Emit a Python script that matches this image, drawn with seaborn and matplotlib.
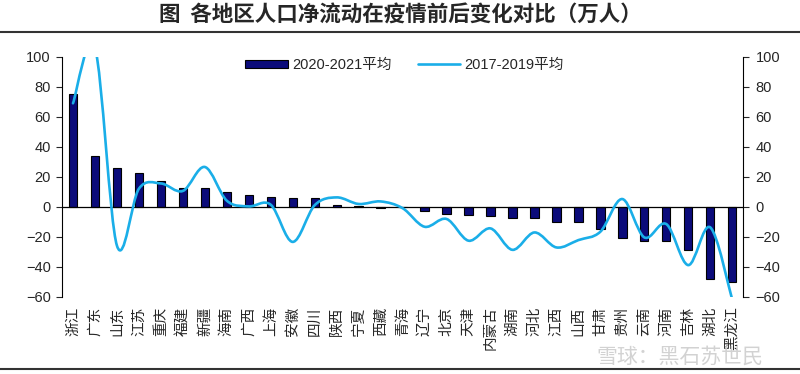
import numpy as np
import pandas as pd
import matplotlib
matplotlib.use("Agg")
import matplotlib.pyplot as plt
import seaborn as sns
from matplotlib.path import Path
from matplotlib.patches import PathPatch, Patch
from matplotlib.lines import Line2D

# Provinces, ordered as in the chart
provinces = ["浙江", "广东", "山东", "江苏", "重庆", "福建", "新疆", "海南", "广西", "上海",
             "安徽", "四川", "陕西", "宁夏", "西藏", "青海", "辽宁", "北京", "天津", "内蒙古",
             "湖南", "河北", "江西", "山西", "甘肃", "贵州", "云南", "河南", "吉林", "湖北", "黑龙江"]

# Net population flow, 2020-2021 average (bars, 万人)
avg_2020_2021 = [75.4, 34.1, 25.9, 22.5, 17.2, 12.7, 12.6, 9.6, 7.8, 6.2,
                 6.0, 5.5, 1.0, 0.5, -1.0, -0.5, -3.1, -4.7, -5.8, -6.5,
                 -7.6, -7.6, -10.3, -10.5, -14.9, -20.7, -22.7, -23.2, -29.0, -48.4, -50.6]

# Net population flow, 2017-2019 average (smoothed line, 万人)
avg_2017_2019 = [69, 106, -26, 12, 15.5, 10.5, 26.5, 4, 0.2, 1.3,
                 -23.5, 1, 6.2, 1.8, 3.5, -1, -13.4, -8.2, -22.7, -14.5,
                 -28.8, -17.2, -27.2, -22.3, -16.7, 5.1, -20.5, -11.6, -39, -13.8, -62]

bar_color = "#0b0b7a"
line_color = "#1aaee8"

sns.set_style("white")
plt.rcParams["font.family"] = ["Liberation Sans", "Noto Sans CJK SC"]

fig = plt.figure(figsize=(8, 3.74), dpi=100)
ax = fig.add_axes([0.0775, 0.207, 0.8515, 0.641])

df = pd.DataFrame({"province": provinces, "value": avg_2020_2021})
sns.barplot(data=df, x="province", y="value", color=bar_color, saturation=1,
            edgecolor="black", linewidth=0.8, width=0.38, ax=ax)

ax.set_xlim(-0.5, len(provinces) - 0.5)
ax.set_ylim(-60, 100)
ax.set_yticks(range(-60, 101, 20))
ax.axhline(0, color="black", lw=0.9, zorder=1)
ax.set_xlabel("")
ax.set_ylabel("")

ax2 = ax.twinx()
ax2.set_ylim(-60, 100)
ax2.set_yticks(range(-60, 101, 20))

# smoothed line (Excel-style), drawn as a bezier path through the data points
pts = np.column_stack([np.arange(len(avg_2017_2019)), avg_2017_2019]).astype(float)
n = len(pts)
verts = [pts[0]]
codes = [Path.MOVETO]
for i in range(n - 1):
    p0 = pts[max(i - 1, 0)]
    p1 = pts[i]
    p2 = pts[i + 1]
    p3 = pts[min(i + 2, n - 1)]
    verts += [p1 + (p2 - p0) / 6, p2 - (p3 - p1) / 6, p2]
    codes += [Path.CURVE4] * 3
ax2.add_patch(PathPatch(Path(verts, codes), fill=False, edgecolor=line_color, lw=1.9,
                        capstyle="round", joinstyle="round"))

for a in (ax, ax2):
    for s in ("top", "bottom"):
        a.spines[s].set_visible(False)
    a.spines["left"].set_visible(a is ax)
    a.spines["right"].set_visible(a is ax2)
    a.spines["left"].set_color("black")
    a.spines["right"].set_color("black")

ax.tick_params(axis="y", direction="out", length=4, width=0.8, pad=4, labelsize=10.5, left=True)
ax2.tick_params(axis="y", direction="out", length=4, width=0.8, pad=5, labelsize=10.5, right=True)
ax.tick_params(axis="x", length=0, pad=7, labelsize=10.5)
plt.setp(ax.get_xticklabels(), rotation=90, va="top", ha="center")

handles = [Patch(facecolor=bar_color, edgecolor="black", linewidth=0.8),
           Line2D([], [], color=line_color, lw=1.9)]
ax2.legend(handles, ["2020-2021平均", "2017-2019平均"], loc="upper center",
           bbox_to_anchor=(0.503, 1.05), ncol=2, frameon=False, fontsize=10.5,
           handlelength=2.9, handleheight=0.5, columnspacing=1.8, handletextpad=0.3)

fig.text(0.5, 0.96, "图  各地区人口净流动在疫情前后变化对比（万人）", ha="center", va="center",
         fontsize=15.5, fontweight="bold", family=["Noto Sans CJK SC"])
fig.add_artist(Line2D([0, 1], [1 - 32 / 374] * 2, transform=fig.transFigure, color="#333333", lw=1.5))
fig.add_artist(Line2D([0, 1], [1 - 369 / 374] * 2, transform=fig.transFigure, color="#333333", lw=1.5))

fig.text(0.745, 0.045, "雪球：黑石苏世民", ha="left", va="center", fontsize=15,
         color="#d2d2d2", family=["Noto Sans CJK SC"], zorder=0)

fig.savefig("out.png", dpi=100)
